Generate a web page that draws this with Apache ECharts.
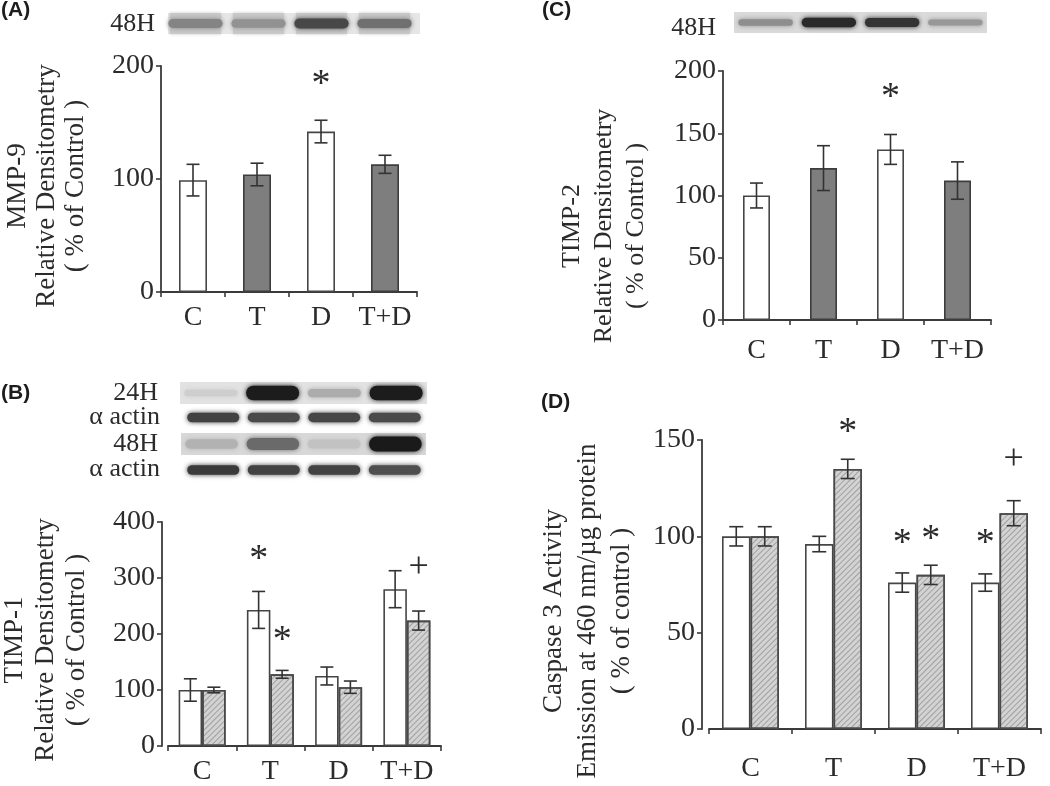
<!DOCTYPE html>
<html>
<head>
<meta charset="utf-8">
<script src="https://cdn.jsdelivr.net/npm/echarts@6/dist/echarts.min.js"></script>
<style>
  html, body { margin: 0; background: #fff; }
  #main { width: 1050px; height: 786px; }
</style>
</head>
<body>
<div id="main"></div>
<script>
// groups on every x axis
const groups = ['C', 'T', 'D', 'T+D'];

// (A) MMP-9, 48H
const mmp9 = [99, 104, 142, 113];
const mmp9Err = [14, 10, 10, 8];
const mmp9Mark = ['', '', '*', ''];
const mmp9MarkY = [0, 0, 190, 0];

// (C) TIMP-2, 48H
const timp2 = [100, 122, 137, 112];
const timp2Err = [10, 18, 12, 15];
const timp2Mark = ['', '', '*', ''];
const timp2MarkY = [0, 0, 185, 0];

// (B) TIMP-1, open = 24H, hatched = 48H
const timp1Open = [100, 243, 125, 280];
const timp1OpenErr = [20, 33, 16, 33];
const timp1Hatch = [100, 128, 105, 224];
const timp1HatchErr = [5, 7, 11, 17];
const timp1OpenMark = ['', '*', '', ''];
const timp1OpenMarkY = [0, 347, 0, 0];
const timp1HatchMark = ['', '*', '', '+'];
const timp1HatchMarkY = [0, 202, 0, 319];

// (D) caspase 3 activity
const casOpen = [100, 96, 76, 76];
const casOpenErr = [5, 4, 5, 4.5];
const casHatch = [100, 135, 80, 112];
const casHatchErr = [5, 5, 5, 6.5];
const casOpenMark = ['', '', '*', '*'];
const casOpenMarkY = [0, 0, 100, 100];
const casHatchMark = ['', '*', '*', '+'];
const casHatchMarkY = [0, 158, 102, 140];

// blot band darkness per lane (0 = none, 1 = black)
const blotMMP9 = [0.45, 0.38, 0.75, 0.55];
const blotTIMP2 = [0.4, 0.9, 0.85, 0.35];
const blotTIMP1h24 = [0.08, 0.97, 0.25, 0.97];
const actin24 = [0.78, 0.74, 0.76, 0.74];
const blotTIMP1h48 = [0.22, 0.58, 0.14, 0.98];
const actin48 = [0.82, 0.78, 0.78, 0.72];

const SERIF = 'Liberation Serif';
const INK = '#2b2b2b';
const AXIS = '#3a3a3a';
const GRAY_BAR = '#7e7e7e';
const HATCH_BG = '#d3d3d3';

const chart = echarts.init(document.getElementById('main'));

function xAx(grid, margin) {
  return {
    type: 'category', gridIndex: grid, data: groups,
    axisLine: { lineStyle: { color: AXIS, width: 1.8 } },
    axisTick: { show: true, length: 5, lineStyle: { color: AXIS, width: 1.6 } },
    axisLabel: { interval: 0, margin: margin, fontFamily: SERIF, fontSize: 28, color: INK }
  };
}

function yAx(grid, max, interval, offset) {
  return {
    type: 'value', gridIndex: grid, min: 0, max: max, interval: interval, offset: offset || 0,
    axisLine: { show: true, lineStyle: { color: AXIS, width: 1.8 } },
    axisTick: { show: true, length: 5, lineStyle: { color: AXIS, width: 1.6 } },
    splitLine: { show: false },
    axisLabel: { margin: 7, fontFamily: SERIF, fontSize: 28, color: INK }
  };
}

function bars(ax, vals, bw, styleFn) {
  return {
    type: 'bar', xAxisIndex: ax, yAxisIndex: ax, barWidth: bw, barGap: '0%',
    data: vals.map((v, i) => ({ value: v, itemStyle: styleFn(i) })),
    silent: true, z: 2
  };
}

const openStyle = () => ({ color: '#fff', borderColor: '#454545', borderWidth: 1.6 });
const grayStyle = () => ({ color: GRAY_BAR, borderColor: '#3d3d3d', borderWidth: 1.6 });
const altStyle = (i) => (i % 2 ? grayStyle() : openStyle());
const hatchStyle = () => ({
  color: HATCH_BG, borderColor: '#4a4a4a', borderWidth: 1.6,
  decal: {
    symbol: 'rect', symbolSize: 1, dashArrayX: [1, 0], dashArrayY: [1, 2.2],
    rotation: -Math.PI / 4, color: 'rgba(110,110,110,0.5)'
  }
});

function errs(ax, vals, e, shift, cap) {
  return {
    type: 'custom', xAxisIndex: ax, yAxisIndex: ax, silent: true, z: 5,
    encode: { x: 0, y: 1 },
    data: vals.map((v, i) => [i, v, e[i]]),
    renderItem: function (params, api) {
      const i = api.value(0), v = api.value(1), d = api.value(2);
      const x = api.coord([i, v])[0] + shift;
      const hi = api.coord([i, v + d])[1];
      const lo = api.coord([i, v - d])[1];
      const st = { stroke: '#333', lineWidth: 1.6 };
      return {
        type: 'group', children: [
          { type: 'line', shape: { x1: x, y1: hi, x2: x, y2: lo }, style: st },
          { type: 'line', shape: { x1: x - cap / 2, y1: hi, x2: x + cap / 2, y2: hi }, style: st },
          { type: 'line', shape: { x1: x - cap / 2, y1: lo, x2: x + cap / 2, y2: lo }, style: st }
        ]
      };
    }
  };
}

function marks(ax, sym, ys, shift) {
  return {
    type: 'custom', xAxisIndex: ax, yAxisIndex: ax, silent: true, z: 6,
    encode: { x: 0, y: 1 },
    data: ys.map((y, i) => [i, y]).filter((d) => sym[d[0]] !== ''),
    renderItem: function (params, api) {
      const i = api.value(0);
      const p = api.coord([i, api.value(1)]);
      const s = sym[i];
      const star = s === '*';
      return {
        type: 'text', x: p[0] + shift, y: p[1] + (star ? 8 : 0),
        style: {
          text: s, fill: INK,
          font: (star ? '38px ' : '36px ') + SERIF,
          align: 'center', verticalAlign: 'middle',
          textAlign: 'center', textVerticalAlign: 'middle'
        }
      };
    }
  };
}

function shade(level) {
  const v = Math.round(222 - level * 200);
  return 'rgb(' + v + ',' + v + ',' + v + ')';
}

function blot(x, y, w, h, levels, bg, laneBg, bandBase, bandGrow) {
  const out = [];
  const laneW = w / 4;
  if (bg) out.push({ type: 'rect', shape: { x: x, y: y, width: w, height: h }, style: { fill: bg } });
  levels.forEach((lv, i) => {
    const lx = x + laneW * i;
    if (laneBg) {
      out.push({ type: 'rect', shape: { x: lx + 2, y: y, width: laneW - 12, height: h }, style: { fill: laneBg, shadowBlur: 3, shadowColor: laneBg } });
    }
    const bh = bandBase + lv * bandGrow;
    const bw = laneW * 0.86;
    const cx = lx + laneW / 2 - (laneBg ? 4 : 0);
    out.push({
      type: 'rect',
      shape: { x: cx - bw / 2, y: y + h / 2 - bh / 2, width: bw, height: bh, r: bh / 2 },
      style: { fill: shade(lv), shadowBlur: 5, shadowColor: shade(lv) }
    });
  });
  return out;
}

function txt(x, y, text, size, align) {
  return {
    type: 'text', x: x, y: y,
    style: {
      text: text, fill: INK, font: size + 'px ' + SERIF,
      align: align || 'center', verticalAlign: 'middle',
      textAlign: align || 'center', textVerticalAlign: 'middle'
    }
  };
}

function vtitle(x, y, text, size, lh) {
  return {
    type: 'text', x: x, y: y, rotation: Math.PI / 2,
    style: {
      text: text, fill: INK, font: size + 'px ' + SERIF, lineHeight: lh,
      align: 'center', verticalAlign: 'middle',
      textAlign: 'center', textVerticalAlign: 'middle'
    }
  };
}

function letter(x, y, s) {
  return {
    type: 'text', x: x, y: y,
    style: { text: s, fill: '#1c1c1c', font: 'bold 21px Liberation Sans', align: 'left', verticalAlign: 'top', textAlign: 'left', textVerticalAlign: 'top' }
  };
}

const graphics = [].concat(
  [letter(1, 0, '(A)'), letter(1, 383, '(B)'), letter(542, 0, '(C)'), letter(541, 392, '(D)')],
  [txt(155, 24, '48H', 26, 'right'), txt(716, 28, '48H', 26, 'right')],
  [txt(158, 393, '24H', 26, 'right'), txt(160, 417, 'α actin', 26, 'right'),
   txt(158, 444, '48H', 26, 'right'), txt(160, 469, 'α actin', 26, 'right')],
  blot(168, 13, 252, 21, blotMMP9, '#e6e6e6', '#c9c9c9', 7, 4),
  blot(734, 12, 253, 21, blotTIMP2, '#dadada', null, 4, 6),
  blot(180, 382, 247, 22, blotTIMP1h24, '#e2e2e2', null, 6, 9),
  blot(183, 410, 242, 15, actin24, null, null, 8, 2),
  blot(181, 433, 245, 22, blotTIMP1h48, '#d8d8d8', null, 8, 7),
  blot(183, 462, 242, 16, actin48, null, null, 8, 2),
  [vtitle(47, 186, 'MMP-9\nRelative Densitometry\n( % of Control )', 27, 29),
   vtitle(604, 226, 'TIMP-2\nRelative Densitometry\n( % of Control )', 26, 32),
   vtitle(46, 640, 'TIMP-1\nRelative Densitometry\n( % of Control )', 27, 31),
   vtitle(588, 611, 'Caspase 3 Activity\nEmission at 460 nm/µg protein\n( % of control )', 27, 34)]
);

const bwB = 23.5, bwD = 28.5;

chart.setOption({
  animation: false,
  backgroundColor: '#fff',
  grid: [
    { left: 161, top: 66, width: 256, height: 226 },
    { left: 168, top: 522, width: 273, height: 228 },
    { left: 723, top: 71, width: 268, height: 249 },
    { left: 709, top: 440, width: 332, height: 289 }
  ],
  xAxis: [xAx(0, 12), xAx(1, 12), xAx(2, 17), xAx(3, 26)],
  yAxis: [yAx(0, 200, 100), yAx(1, 400, 100, 6), yAx(2, 200, 50), yAx(3, 150, 50, 7)],
  graphic: graphics,
  series: [
    bars(0, mmp9, 28, altStyle),
    errs(0, mmp9, mmp9Err, 0, 13),
    marks(0, mmp9Mark, mmp9MarkY, 0),

    bars(1, timp1Open, bwB, openStyle),
    bars(1, timp1Hatch, bwB, hatchStyle),
    errs(1, timp1Open, timp1OpenErr, -bwB / 2, 13),
    errs(1, timp1Hatch, timp1HatchErr, bwB / 2, 13),
    marks(1, timp1OpenMark, timp1OpenMarkY, -bwB / 2),
    marks(1, timp1HatchMark, timp1HatchMarkY, bwB / 2),

    bars(2, timp2, 27, altStyle),
    errs(2, timp2, timp2Err, 0, 13),
    marks(2, timp2Mark, timp2MarkY, 0),

    bars(3, casOpen, bwD, openStyle),
    bars(3, casHatch, bwD, hatchStyle),
    errs(3, casOpen, casOpenErr, -bwD / 2, 14),
    errs(3, casHatch, casHatchErr, bwD / 2, 14),
    marks(3, casOpenMark, casOpenMarkY, -bwD / 2),
    marks(3, casHatchMark, casHatchMarkY, bwD / 2)
  ]
});
</script>
</body>
</html>
